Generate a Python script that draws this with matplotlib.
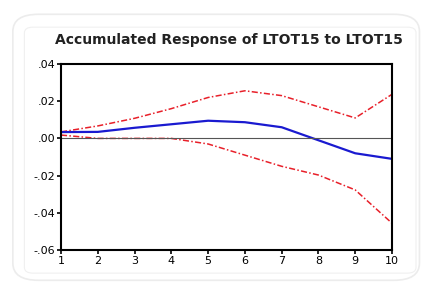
import matplotlib
matplotlib.use("Agg")
import matplotlib.pyplot as plt
from matplotlib.patches import FancyBboxPatch

# periods and accumulated responses
periods = [1, 2, 3, 4, 5, 6, 7, 8, 9, 10]
response = [0.0034, 0.0035, 0.0057, 0.0076, 0.0095, 0.0087, 0.0060, -0.0010, -0.0080, -0.0110]
upper_band = [0.0035, 0.0067, 0.0108, 0.0160, 0.0220, 0.0256, 0.0230, 0.0170, 0.0110, 0.0237]
lower_band = [0.0018, 0.0000, 0.0000, 0.0000, -0.0030, -0.0090, -0.0150, -0.0197, -0.0277, -0.0456]
ytick_vals = [0.04, 0.02, 0.00, -0.02, -0.04, -0.06]
ytick_labels = [".04", ".02", ".00", "-.02", "-.04", "-.06"]

fig = plt.figure(figsize=(4.28, 2.86), dpi=100)

# the faint rounded frame around the screenshot
frame = FancyBboxPatch((0.03, 0.02), 0.95, 0.93, boxstyle="round,pad=0,rounding_size=0.06",
                       transform=fig.transFigure, fill=False, edgecolor="#ececec", lw=1.2)
fig.patches.append(frame)
inner = FancyBboxPatch((0.057, 0.045), 0.915, 0.86, boxstyle="round,pad=0,rounding_size=0.02",
                       transform=fig.transFigure, fill=False, edgecolor="#f0f0f0", lw=0.8)
fig.patches.append(inner)

ax = fig.add_axes([61/428, 1 - 250/286, (392-61)/428, (250-64)/286])
ax.plot(periods, upper_band, color="#e8202a", lw=1.1, ls=(0, (4, 1.5, 1, 1.5)))
ax.plot(periods, lower_band, color="#e8202a", lw=1.1, ls=(0, (4, 1.5, 1, 1.5)))
ax.plot(periods, response, color="#1a1ad0", lw=1.6)
ax.axhline(0, color="#555555", lw=0.8)

ax.set_xlim(1, 10)
ax.set_ylim(-0.06, 0.04)
ax.set_xticks(periods)
ax.set_yticks(ytick_vals)
ax.set_yticklabels(ytick_labels)
ax.tick_params(labelsize=8, length=3, width=1.2, pad=1, labelcolor="black")
for s in ax.spines.values():
    s.set_linewidth(1.5)

fig.text(0.535, 1 - 40/286, "Accumulated Response of LTOT15 to LTOT15", ha="center", va="center",
         fontsize=10, fontweight="bold", color="#222222")

fig.savefig("out.png", dpi=100)
